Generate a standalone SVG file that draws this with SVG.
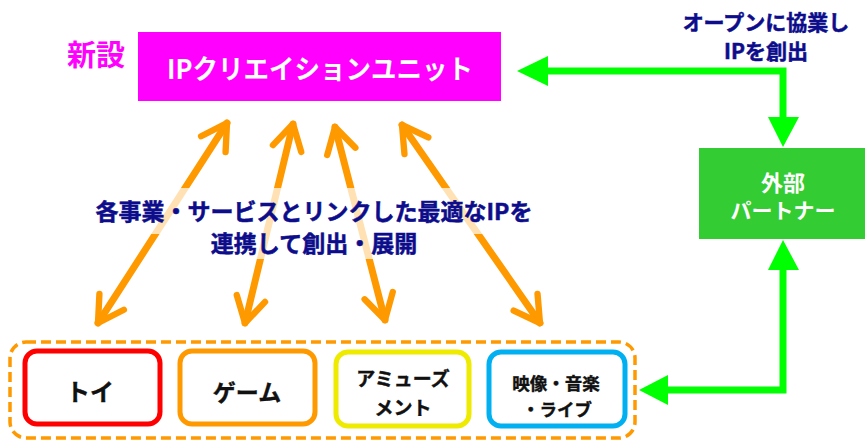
<svg xmlns="http://www.w3.org/2000/svg" width="865" height="440" viewBox="0 0 865 440">
<style>
text{font-family:"Noto Sans CJK JP","Noto Sans",sans-serif;font-weight:700;text-anchor:middle}
.navy{fill:#0d0d8c;stroke:#0d0d8c;stroke-width:0.5}
.white{fill:#ffffff}
.black{fill:#111111;stroke:#111111;stroke-width:0.4}
.orange{stroke:#ff9900;stroke-width:7;stroke-linecap:round;fill:none}
.green{stroke:#00ff00;stroke-width:7;fill:none}
.gh{fill:#00ff00}
.cat{fill:#ffffff;stroke-width:5}
</style>
<defs>
<marker id="chev" markerUnits="userSpaceOnUse" orient="auto-start-reverse" refX="0" refY="0" markerWidth="40" markerHeight="40" viewBox="-40 -20 44 40" overflow="visible">
<path d="M-27.7,-16 L0,0 L-27.7,16" fill="none" stroke="#ff9900" stroke-width="7" stroke-linecap="round" stroke-linejoin="round"/>
</marker>
</defs>
<rect width="865" height="440" fill="#ffffff"/>

<g id="ip-unit">
<rect x="138" y="32" width="363" height="69" fill="#ff00ff"/>
<text x="320" y="79" font-size="27" textLength="306" lengthAdjust="spacingAndGlyphs" class="white">IPクリエイションユニット</text>
</g>
<g id="label-new">
<text x="96" y="66" font-size="29" fill="#ff00ff">新設</text>
</g>

<g id="connectors">
<line class="orange" x1="227" y1="123" x2="98" y2="323" marker-start="url(#chev)" marker-end="url(#chev)"/>
<line class="orange" x1="293" y1="124" x2="245" y2="323" marker-start="url(#chev)" marker-end="url(#chev)"/>
<line class="orange" x1="335" y1="127" x2="385" y2="320" marker-start="url(#chev)" marker-end="url(#chev)"/>
<line class="orange" x1="402" y1="125" x2="540" y2="323" marker-start="url(#chev)" marker-end="url(#chev)"/>
<polyline class="green" points="548,71 783,71 783,118"/>
<polygon class="gh" points="517,71 548,56 548,86"/>
<polygon class="gh" points="783,147 768,117 799,117"/>
<polyline class="green" points="783,269 783,390 667,390"/>
<polygon class="gh" points="783,240 768,270 799,270"/>
<polygon class="gh" points="639,390 668,375 668,405"/>
</g>

<g id="main-label">
<rect x="95" y="188" width="440" height="46" fill="#ffffff" fill-opacity="0.7"/>
<rect x="205" y="234" width="220" height="25" fill="#ffffff" fill-opacity="0.7"/>
<text x="314" y="220" font-size="23" class="navy">各事業・サービスとリンクした最適なIPを</text>
<text x="314" y="252" font-size="23" class="navy">連携して創出・展開</text>
</g>

<g id="open-label">
<text x="766" y="30" font-size="21" class="navy">オープンに協業し</text>
<text x="766" y="59" font-size="21" class="navy">IPを創出</text>
</g>

<g id="partner">
<rect x="699" y="148" width="166" height="91" fill="#33cc33"/>
<text x="783" y="191" font-size="22" class="white">外部</text>
<text x="783" y="218" font-size="21" class="white">パートナー</text>
</g>

<g id="business-group">
<rect x="10" y="342" width="625" height="96" rx="16" fill="none" stroke="#ff9900" stroke-width="3.5" stroke-dasharray="10,5"/>
</g>
<g id="toy">
<rect class="cat" x="25" y="351" width="135" height="73" rx="12" stroke="#ff0000"/>
<text x="90" y="401" font-size="24" class="black">トイ</text>
</g>
<g id="game">
<rect class="cat" x="180" y="351" width="135" height="73" rx="12" stroke="#ff9900"/>
<text x="247" y="401" font-size="23" class="black">ゲーム</text>
</g>
<g id="amusement">
<rect class="cat" x="336" y="352" width="133" height="74" rx="12" stroke="#eeea00"/>
<text x="403" y="386" font-size="19" class="black">アミューズ</text>
<text x="403" y="415" font-size="19" class="black">メント</text>
</g>
<g id="video">
<rect class="cat" x="489" y="352" width="136" height="74" rx="12" stroke="#00b0f0"/>
<text x="556" y="390" font-size="17.5" class="black">映像・音楽</text>
<text x="557" y="416" font-size="17.5" class="black">・ライブ</text>
</g>
</svg>
